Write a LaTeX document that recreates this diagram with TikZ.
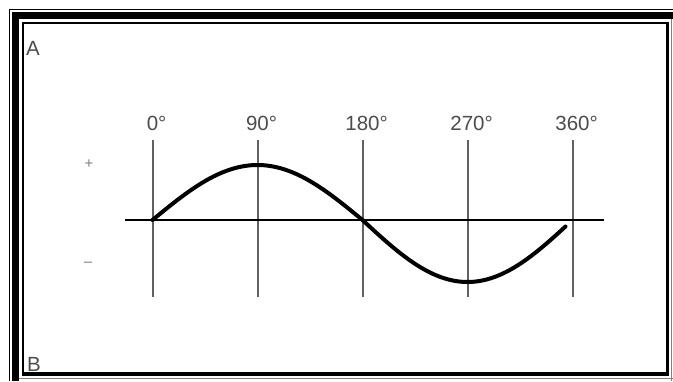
\documentclass[tikz,border=0pt]{standalone}
\usepackage{fontspec}
\setmainfont{Liberation Sans}
\definecolor{txtgray}{gray}{0.3}
\definecolor{vgray}{gray}{0.38}
\begin{document}
\begin{tikzpicture}[x=1pt,y=-1pt,
  lbl/.style={text=txtgray,font=\fontsize{20.5}{22}\selectfont,inner sep=0pt,anchor=base},
  vline/.style={draw=vgray,line width=2pt},
  sign/.style={text=gray,font=\fontsize{15}{16}\selectfont,inner sep=0pt}]
\useasboundingbox (0,0) rectangle (673,381);
\fill[white] (0,0) rectangle (673,381);
% frame
\draw[line width=1.2pt] (9.5,381) -- (9.5,9.5) -- (673,9.5);
\fill[black] (12,12) rectangle (673,19);
\fill[black] (12,12) rectangle (19,381);
\draw[line width=2.5pt] (23,374) -- (23,23) -- (667.5,23);
\draw[line width=3.5pt] (667.5,21.75) -- (667.5,374) -- (21.75,374);
\draw[gray,line width=1pt] (19,378.5) -- (673,378.5);
\draw[gray,line width=1pt] (671.5,19) -- (671.5,381);
% letters
\node[lbl,anchor=base west] (A) at (26,55) {A};
\node[lbl,anchor=base west] (B) at (27,371) {B};
% vertical lines and labels
\foreach \i/\d in {0/0,1/90,2/180,3/270,4/360}{
  \coordinate (t\i) at ({152.5+105*\i},140);
  \coordinate (b\i) at ({152.5+105*\i},297);
  \draw[vline] (t\i) -- (b\i);
  \node[lbl] (l\i) at ({152.5+105*\i},130) {\d\rlap{°}};
}
% axis
\coordinate (ax1) at (125,220);
\coordinate (ax2) at (604,220);
\draw[black,line width=1.4pt] (ax1) -- (ax2);
% signs
\node[sign] (plus) at (89,164) {+};
\node[sign] (minus) at (88,264) {–};
% sine curve
\draw[black,line width=4pt,line cap=round]
  plot[domain=0:180,samples=60] ({152.5+\x*1.166667},{220-55*sin(\x)})
  -- plot[domain=180:354,samples=60] ({152.5+\x*1.166667},{220-62*sin(\x)});
\end{tikzpicture}
\end{document}
